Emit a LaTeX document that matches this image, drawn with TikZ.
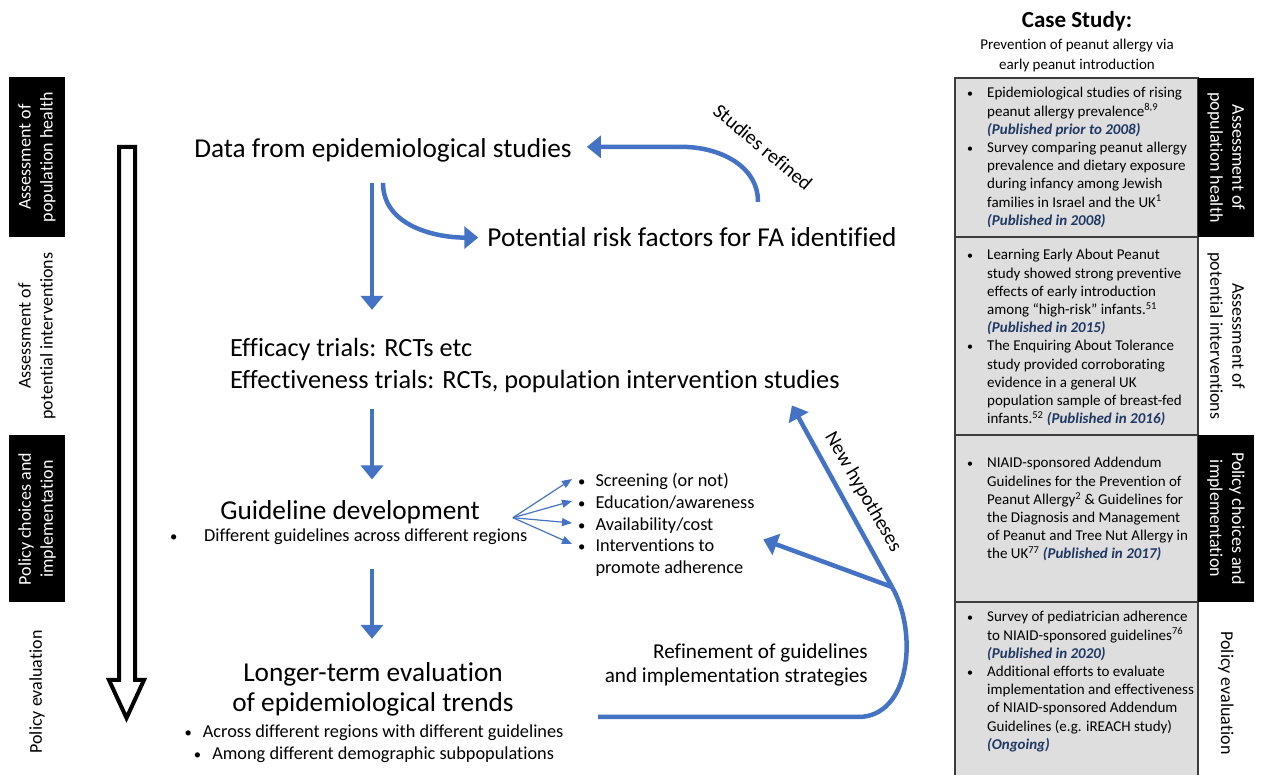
\documentclass[tikz,border=0pt]{standalone}
\usepackage{fontspec}
\setmainfont{Carlito}[Ligatures=NoCommon]
\usepackage{xcolor}
\usetikzlibrary{positioning,calc,arrows.meta}

\definecolor{flowblue}{RGB}{68,114,196}
\definecolor{pubblue}{RGB}{32,56,100}
\definecolor{boxgrey}{RGB}{222,222,222}
\definecolor{boxedge}{RGB}{60,60,60}
\newcommand{\pub}[1]{\textcolor{pubblue}{\textbf{\textit{#1}}}}
\newcommand{\bul}{\raisebox{0.5pt}{\scalebox{0.8}{\textbullet}}}
\newcommand{\bulletrow}[1]{\begin{tabular}[t]{@{}l@{\hspace{10pt}}l@{}}\bul & #1\end{tabular}}

\begin{document}
\begin{tikzpicture}[x=1pt, y=1pt,
    flow/.style={draw=flowblue, line width=4.5pt, line join=round, -{Triangle[width=22pt,length=14pt]}},
    flowline/.style={draw=flowblue, line width=4.5pt, line join=round},
    fan/.style={draw=flowblue, line width=1.2pt, -{Triangle[width=8pt,length=10pt]}},
    big/.style={font=\fontsize{27.3}{30}\selectfont, inner sep=0pt},
    small/.style={font=\fontsize{18.3}{22}\selectfont, inner sep=0pt},
    stage/.style={minimum height=56pt, inner sep=0pt, outer sep=0pt, align=center, font=\fontsize{18}{22}\selectfont},
    darkstage/.style={stage, fill=black, text=white},
    casebox/.style={draw=boxedge, line width=2pt, fill=boxgrey, minimum width=243pt, inner sep=0pt, outer sep=0pt, anchor=north west},
    casetext/.style={anchor=base west, inner sep=0pt, font=\fontsize{15}{18.2}\selectfont}]

\useasboundingbox (0,0) rectangle (1265,775);

% stages on the left
\node[darkstage, rotate=90, minimum width=160pt] (lstage1) at (37,618) {Assessment of\\population health};
\node[stage, rotate=90, minimum width=170pt] (lstage2) at (37,439) {Assessment of\\potential interventions};
\node[darkstage, rotate=90, minimum width=167pt] (lstage3) at (37,256) {Policy choices and\\implementation};
\node[stage, rotate=90, minimum width=125pt] (lstage4) at (37,83) {Policy evaluation};

\draw[line width=4pt, fill=white, line join=miter] (119,628) -- (135,628) -- (135,95) -- (144,95)
    -- (126.5,57) -- (109,95) -- (119,95) -- cycle;

% main flow
\node[big, anchor=base] (data) at (383,617) {Data from epidemiological studies};
\node[big, anchor=base] (risk) at (692,528) {Potential risk factors for FA identified};
\node[big, font=\fontsize{26.3}{32}\selectfont, anchor=base west, align=left] (trials) at (230,386)
    {Efficacy trials: RCTs etc\\Effectiveness trials: RCTs, population intervention studies};
\node[big, anchor=base] (guide) at (350,255) {Guideline development};
\node[small, anchor=base west] (guidenote) at (170,233) {\makebox[34pt][l]{\bul}Different guidelines across different regions};
\node[big, anchor=base, align=center] (trend) at (373,63) {Longer-term evaluation\\of epidemiological trends};
\node[small, anchor=base, align=center] (trendnote) at (374,15)
    {\bul\hspace{11pt}Across different regions with different guidelines\\\bul\hspace{11pt}Among different demographic subpopulations};

\node[small, anchor=base west] (opt1) at (578,288) {\bulletrow{Screening (or not)}};
\node[small, anchor=base west] (opt2) at (578,266) {\bulletrow{Education/awareness}};
\node[small, anchor=base west] (opt3) at (578,244) {\bulletrow{Availability/cost}};
\node[small, font=\fontsize{18.3}{21.7}\selectfont, anchor=base west] (opt4) at (578,223) {\bulletrow{Interventions to\\ & promote adherence}};

\node[font=\fontsize{21.2}{24}\selectfont, inner sep=0pt, anchor=base east, align=right] (refine) at (868,92)
    {Refinement of guidelines\\and implementation strategies};

\draw[flow] ($(data.south)+(-11,-20)$) -- ++(0,-127);
\draw[flow] ($(data.south)+(0,-20)$) to[out=-90, in=180] ($(risk.west)+(-9,0)$);
\draw[flow] ($(risk.north)+(66,26)$) to[out=90, in=0] ($(data.east)+(110,4)$) -- ($(data.east)+(15,4)$);
\node[font=\fontsize{20}{24}\selectfont, rotate=-40] (refinedlabel) at (763,628) {Studies refined};

\draw[flow] ($(trials.south west)+(142,-16)$) -- ++(0,-70);
\draw[flow] ($(trend.north)+(-1,94)$) -- ($(trend.north)+(-1,24)$);

\coordinate (fanroot) at ($(guide.east)+(33,-5)$);
\foreach \i in {1,...,4}
    \draw[fan] (fanroot) -- ($(opt\i.base west)+(-6,8)$);

% feedback loop
\coordinate (loopstart) at (598,58);
\coordinate (fork) at (892,188);
\draw[flowline] (loopstart) -- ++(260,0) to[out=0, in=-60] (fork);
\draw[flow] (fork) -- ($(trials.south east)+(-48,-12)$);
\draw[flow] (fork) -- ($(opt4.north east)+(20,-3)$);
\node[font=\fontsize{20}{24}\selectfont, rotate=-60] (hyplabel) at (863,283) {New hypotheses};

% case study panel
\node[font=\fontsize{23}{27}\selectfont\bfseries, anchor=base] (casetitle) at (1077,747) {Case Study:};
\node[font=\fontsize{15}{20}\selectfont, inner sep=0pt, anchor=base, align=center] (casesub) at (1077,705)
    {Prevention of peanut allergy via\\early peanut introduction};

\node[casebox, minimum height=159pt] (case1) at (955,697) {};
\node[casebox, minimum height=198pt, below=0pt of case1] (case2) {};
\node[casebox, minimum height=167pt, below=0pt of case2] (case3) {};
\node[casebox, minimum height=180pt, below=0pt of case3] (case4) {};

\node[casetext] (case1txt) at ($(case1.north west)+(12,-20)$) {\begin{tabular}[t]{@{}p{20pt}@{}l@{}}
    \bul & Epidemiological studies of rising\\
    & peanut allergy prevalence\textsuperscript{8,9}\\
    & \pub{(Published prior to 2008)}\\
    \bul & Survey comparing peanut allergy\\
    & prevalence and dietary exposure\\
    & during infancy among Jewish\\
    & families in Israel and the UK\textsuperscript{1}\\
    & \pub{(Published in 2008)}
    \end{tabular}};
\node[casetext] (case2txt) at ($(case2.north west)+(12,-23)$) {\begin{tabular}[t]{@{}p{20pt}@{}l@{}}
    \bul & Learning Early About Peanut\\
    & study showed strong preventive\\
    & effects of early introduction\\
    & among “high-risk” infants.\textsuperscript{51}\\
    & \pub{(Published in 2015)}\\
    \bul & The Enquiring About Tolerance\\
    & study provided corroborating\\
    & evidence in a general UK\\
    & population sample of breast-fed\\
    & infants.\textsuperscript{52} \pub{(Published in 2016)}
    \end{tabular}};
\node[casetext] (case3txt) at ($(case3.north west)+(12,-33)$) {\begin{tabular}[t]{@{}p{20pt}@{}l@{}}
    \bul & NIAID-sponsored Addendum\\
    & Guidelines for the Prevention of\\
    & Peanut Allergy\textsuperscript{2} \& Guidelines for\\
    & the Diagnosis and Management\\
    & of Peanut and Tree Nut Allergy in\\
    & the UK\textsuperscript{77} \pub{(Published in 2017)}
    \end{tabular}};
\node[casetext] (case4txt) at ($(case4.north west)+(12,-20)$) {\begin{tabular}[t]{@{}p{20pt}@{}l@{}}
    \bul & Survey of pediatrician adherence\\
    & to NIAID-sponsored guidelines\textsuperscript{76}\\
    & \pub{(Published in 2020)}\\
    \bul & Additional efforts to evaluate\\
    & implementation and effectiveness\\
    & of NIAID-sponsored Addendum\\
    & Guidelines (e.g. iREACH study)\\
    & \pub{(Ongoing)}
    \end{tabular}};

% stages on the right
\node[darkstage, rotate=-90, minimum width=159pt] (rstage1) at ($(case1.east)+(28,0)$) {Assessment of\\population health};
\node[stage, rotate=-90, minimum width=170pt] (rstage2) at ($(case2.east)+(28,0)$) {Assessment of\\potential interventions};
\node[darkstage, rotate=-90, minimum width=167pt] (rstage3) at ($(case3.east)+(28,0)$) {Policy choices and\\implementation};
\node[stage, rotate=-90, minimum width=125pt] (rstage4) at (1226,82) {Policy evaluation};

\end{tikzpicture}
\end{document}
